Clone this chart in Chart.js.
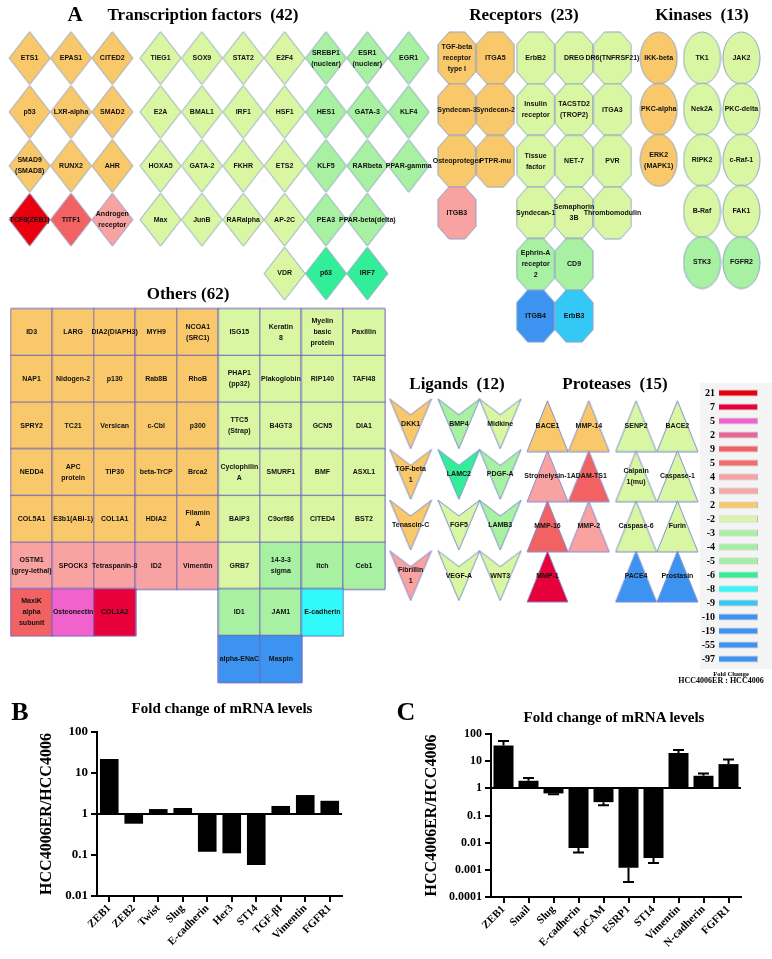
<!DOCTYPE html>
<html>
<head>
<meta charset="UTF-8">
<title>HCC4006ER vs HCC4006 fold change</title>
<script src="https://cdn.jsdelivr.net/npm/chart.js"></script>
<style>
body { margin: 0; background: #fff; }
#page { position: relative; width: 772px; height: 959px; overflow: hidden; }
canvas { position: absolute; }
#legendBg { position: absolute; left: 700px; top: 383px; width: 72px; height: 286px; background: #f4f4f4; }
.t { position: absolute; transform: translate(-50%, -50%); font-family: "Liberation Serif", "Times New Roman", serif;
     font-weight: bold; white-space: pre; line-height: 1; color: #000; }
</style>
</head>
<body>
<div id="page">
  <div id="legendBg"></div>
  <canvas id="chartA" width="772" height="700" style="left:0;top:0"></canvas>
  <canvas id="chartLeg" width="80" height="300" style="left:690px;top:376px"></canvas>
  <canvas id="chartB" width="390" height="244" style="left:0;top:715px"></canvas>
  <canvas id="chartC" width="382" height="244" style="left:390px;top:715px"></canvas>

  <div class="t" style="left:75px;top:14px;font-size:21px">A</div>
  <div class="t" style="left:203px;top:14px;font-size:17px">Transcription factors  (42)</div>
  <div class="t" style="left:524px;top:14px;font-size:17px">Receptors  (23)</div>
  <div class="t" style="left:702px;top:14px;font-size:17px">Kinases  (13)</div>
  <div class="t" style="left:188px;top:293px;font-size:17px">Others (62)</div>
  <div class="t" style="left:457px;top:383px;font-size:17px">Ligands  (12)</div>
  <div class="t" style="left:615px;top:383px;font-size:17px">Proteases  (15)</div>
  <div class="t" style="left:731px;top:674px;font-size:6.5px">Fold Change</div>
  <div class="t" style="left:721px;top:681px;font-size:8px">HCC4006ER : HCC4006</div>

  <div class="t" style="left:20px;top:712px;font-size:26px">B</div>
  <div class="t" style="left:222px;top:708px;font-size:15px">Fold change of mRNA levels</div>
  <div class="t" style="left:406px;top:712px;font-size:26px">C</div>
  <div class="t" style="left:614px;top:717px;font-size:15px">Fold change of mRNA levels</div>
</div>

<script>
// colour key, HCC4006ER : HCC4006 (labels as printed, left digit cut off in the figure)
const legendTicks  = ['21','7','5','2','9','5','4','3','2','-2','-3','-4','-5','-6','-8','-9','-10','-19','-55','-97'];
const legendValues = [21, 17, 15, 12, 9, 5, 4, 3, 2, -2, -3, -4, -5, -6, -8, -9, -10, -19, -55, -97];
const legendColors = ['#e8000e','#e8003a','#f262cc','#ea6496','#f26262','#f46c6c','#f8a2a2','#f8a6a6','#f9c86b',
                      '#d9f7a3','#a8f0a2','#a2f0a2','#a2f0a2','#33ee99','#33fafa','#33c8f6','#3d94f0','#3d94f0','#3d94f0','#3d94f0'];

// Transcription factors (42)
const tfUpNames = [
  ['ETS1', 'EPAS1', 'CITED2'],
  ['p53', 'LXR-alpha', 'SMAD2'],
  ['SMAD9\n(SMAD8)', 'RUNX2', 'AHR'],
  ['TCF8(ZEB1)', 'TITF1', 'Androgen\nreceptor']
];
const tfUpFold = [[2, 2, 2], [2, 2, 2], [2, 2, 2], [21, 9, 4]];
const tfDownNames = [
  ['TIEG1', 'SOX9', 'STAT2', 'E2F4', 'SREBP1\n(nuclear)', 'ESR1\n(nuclear)', 'EGR1'],
  ['E2A', 'BMAL1', 'IRF1', 'HSF1', 'HES1', 'GATA-3', 'KLF4'],
  ['HOXA5', 'GATA-2', 'FKHR', 'ETS2', 'KLF5', 'RARbeta', 'PPAR-gamma'],
  ['Max', 'JunB', 'RARalpha', 'AP-2C', 'PEA3', 'PPAR-beta(delta)', null],
  [null, null, null, 'VDR', 'p63', 'IRF7', null]
];
const tfDownFold = [
  [-2, -2, -2, -2, -3, -3, -3],
  [-2, -2, -2, -2, -3, -3, -3],
  [-2, -2, -2, -2, -3, -3, -3],
  [-2, -2, -2, -2, -3, -3, null],
  [null, null, null, -2, -6, -6, null]
];

// Receptors (23)
const recUpNames = [
  ['TGF-beta\nreceptor\ntype I', 'ITGA5'],
  ['Syndecan-3', 'Syndecan-2'],
  ['Osteoproteger', 'PTPR-mu'],
  ['ITGB3', null]
];
const recUpFold = [[2, 2], [2, 2], [2, 2], [4, null]];
const recDownNames = [
  ['ErbB2', 'DREG', 'DR6(TNFRSF21)'],
  ['Insulin\nreceptor', 'TACSTD2\n(TROP2)', 'ITGA3'],
  ['Tissue\nfactor', 'NET-7', 'PVR'],
  ['Syndecan-1', 'Semaphorin\n3B', 'Thrombomodulin'],
  ['Ephrin-A\nreceptor\n2', 'CD9', null],
  ['ITGB4', 'ErbB3', null]
];
const recDownFold = [[-2, -2, -2], [-2, -2, -2], [-2, -2, -2], [-2, -2, -2], [-3, -3, null], [-10, -9, null]];

// Kinases (13)
const kinUpNames = [['IKK-beta'], ['PKC-alpha'], ['ERK2\n(MAPK1)']];
const kinUpFold = [[2], [2], [2]];
const kinDownNames = [['TK1', 'JAK2'], ['Nek2A', 'PKC-delta'], ['RIPK2', 'c-Raf-1'], ['B-Raf', 'FAK1'], ['STK3', 'FGFR2']];
const kinDownFold = [[-2, -2], [-2, -2], [-2, -2], [-2, -2], [-3, -3]];

// Others (62)
const othNames = [
  ['ID3', 'LARG', 'DIA2(DIAPH3)', 'MYH9', 'NCOA1\n(SRC1)', 'ISG15', 'Keratin\n8', 'Myelin\nbasic\nprotein', 'Paxillin'],
  ['NAP1', 'Nidogen-2', 'p130', 'Rab8B', 'RhoB', 'PHAP1\n(pp32)', 'Plakoglobin', 'RIP140', 'TAFI48'],
  ['SPRY2', 'TC21', 'Versican', 'c-Cbl', 'p300', 'TTC5\n(Strap)', 'B4GT3', 'GCN5', 'DIA1'],
  ['NEDD4', 'APC\nprotein', 'TIP30', 'beta-TrCP', 'Brca2', 'Cyclophilin\nA', 'SMURF1', 'BMF', 'ASXL1'],
  ['COL5A1', 'E3b1(ABI-1)', 'COL1A1', 'HDIA2', 'Filamin\nA', 'BAIP3', 'C9orf86', 'CITED4', 'BST2'],
  ['OSTM1\n(grey-lethal)', 'SPOCK3', 'Tetraspanin-8', 'ID2', 'Vimentin', 'GRB7', '14-3-3\nsigma', 'Itch', 'Ceb1'],
  ['MaxiK\nalpha\nsubunit', 'Osteonectin', 'COL1A2', null, null, 'ID1', 'JAM1', 'E-cadherin', null],
  [null, null, null, null, null, 'alpha-ENaC', 'Maspin', null, null]
];
const othFold = [
  [2, 2, 2, 2, 2, -2, -2, -2, -2],
  [2, 2, 2, 2, 2, -2, -2, -2, -2],
  [2, 2, 2, 2, 2, -2, -2, -2, -2],
  [2, 2, 2, 2, 2, -2, -2, -2, -2],
  [2, 2, 2, 2, 2, -2, -2, -2, -2],
  [4, 4, 4, 4, 4, -2, -3, -3, -3],
  [9, 15, 17, null, null, -3, -3, -8, null],
  [null, null, null, null, null, -10, -10, null, null]
];

// Ligands (12)
const ligUpNames = [['DKK1'], ['TGF-beta\n1'], ['Tenascin-C'], ['Fibrillin\n1']];
const ligUpFold = [[2], [2], [2], [4]];
const ligDownNames = [['BMP4', 'Midkine'], ['LAMC2', 'PDGF-A'], ['FGF5', 'LAMB3'], ['VEGF-A', 'WNT3']];
const ligDownFold = [[-3, -2], [-6, -3], [-2, -3], [-2, -2]];

// Proteases (15)
const protUpNames = [['BACE1', 'MMP-14'], ['Stromelysin-1', 'ADAM-TS1'], ['MMP-16', 'MMP-2'], ['MMP-1', null]];
const protUpFold = [[2, 2], [4, 9], [9, 4], [17, null]];
const protDownNames = [['SENP2', 'BACE2'], ['Calpain\n1(mu)', 'Caspase-1'], ['Caspase-6', 'Furin'], ['PACE4', 'Prostasin']];
const protDownFold = [[-2, -2], [-2, -2], [-2, -2], [-10, -10]];

// B: qPCR fold change
const bCats = ['ZEB1', 'ZEB2', 'Twist', 'Slug', 'E-cadherin', 'Her3', 'ST14', 'TGF-βI', 'Vimentin', 'FGFR1'];
const bVals = [22, 0.58, 1.32, 1.4, 0.12, 0.11, 0.057, 1.57, 2.9, 2.1];
const bTicks = [0.01, 0.1, 1, 10, 100];
const bTickLabels = ['0.01', '0.1', '1', '10', '100'];

// C: qPCR fold change with error bar ends
const cCats = ['ZEB1', 'Snail', 'Slug', 'E-cadherin', 'EpCAM', 'ESRP1', 'ST14', 'Vimentin', 'N-cadherin', 'FGFR1'];
const cVals = [38, 1.9, 0.65, 0.0064, 0.31, 0.0012, 0.0027, 20, 2.9, 7.8];
const cErr  = [55, 2.4, 0.61, 0.0043, 0.24, 0.00036, 0.0018, 26, 3.5, 11.5];
const cTicks = [0.0001, 0.001, 0.01, 0.1, 1, 10, 100];
const cTickLabels = ['0.0001', '0.001', '0.01', '0.1', '1', '10', '100'];


Chart.defaults.font.family = '"Liberation Serif", "Times New Roman", serif';
Chart.defaults.color = '#000';

function foldColor(v) {
  return legendColors[legendValues.indexOf(v)];
}

// one small canvas per node, used as the point style
function shapeCanvas(kind, w, h, fill, stroke) {
  const c = document.createElement('canvas');
  c.width = Math.round(w) + 2;
  c.height = Math.round(h) + 2;
  const g = c.getContext('2d');
  g.translate(c.width / 2, c.height / 2);
  const a = w / 2, b = h / 2;
  g.beginPath();
  if (kind == 'diamond') {
    g.moveTo(0, -b); g.lineTo(a, 0); g.lineTo(0, b); g.lineTo(-a, 0);
  } else if (kind == 'octagon') {
    const cx = w * 0.29, cy = h * 0.24;
    g.moveTo(-a + cx, -b); g.lineTo(a - cx, -b); g.lineTo(a, -b + cy); g.lineTo(a, b - cy);
    g.lineTo(a - cx, b); g.lineTo(-a + cx, b); g.lineTo(-a, b - cy); g.lineTo(-a, -b + cy);
  } else if (kind == 'ellipse') {
    g.ellipse(0, 0, a, b, 0, 0, Math.PI * 2);
  } else if (kind == 'rect') {
    g.rect(-a, -b, w, h);
  } else if (kind == 'triangle') {
    g.moveTo(0, -b); g.lineTo(a, b); g.lineTo(-a, b);
  } else if (kind == 'chevron') {
    g.moveTo(-a, -b); g.lineTo(0, -b + h * 0.32); g.lineTo(a, -b); g.lineTo(0, b);
  }
  g.closePath();
  g.fillStyle = fill;
  g.fill();
  g.lineWidth = 1;
  g.strokeStyle = stroke;
  g.stroke();
  return c;
}

const blocks = [
  { names: tfUpNames, folds: tfUpFold, shape: 'diamond', x0: 24, y0: 53, dx: 42, dy: 54.8, w: 41, h: 53, stroke: '#8fa3c6' },
  { names: tfDownNames, folds: tfDownFold, shape: 'diamond', x0: 157, y0: 53, dx: 42, dy: 54.8, w: 41, h: 53, stroke: '#8fa3c6' },
  { names: recUpNames, folds: recUpFold, shape: 'octagon', x0: 458, y0: 53, dx: 39, dy: 52.5, w: 38, h: 52, stroke: '#8fa3c6' },
  { names: recDownNames, folds: recDownFold, shape: 'octagon', x0: 538, y0: 53, dx: 39, dy: 52.5, w: 38, h: 52, stroke: '#8fa3c6' },
  { names: kinUpNames, folds: kinUpFold, shape: 'ellipse', x0: 663, y0: 53, dx: 40, dy: 52, w: 37, h: 52, stroke: '#8fa3c6' },
  { names: kinDownNames, folds: kinDownFold, shape: 'ellipse', x0: 707, y0: 53, dx: 40, dy: 52, w: 37, h: 52, stroke: '#8fa3c6' },
  { names: othNames, folds: othFold, shape: 'rect', x0: 26, y0: 332, dx: 42.2, dy: 47.5, w: 42.2, h: 47.5, stroke: '#6e64c0' },
  { names: ligUpNames, folds: ligUpFold, shape: 'chevron', x0: 411, y0: 425, dx: 42, dy: 51.5, w: 42, h: 50, stroke: '#7f8fd0' },
  { names: ligDownNames, folds: ligDownFold, shape: 'chevron', x0: 460, y0: 425, dx: 42, dy: 51.5, w: 42, h: 50, stroke: '#7f8fd0' },
  { names: protUpNames, folds: protUpFold, shape: 'triangle', x0: 550, y0: 427.5, dx: 42, dy: 51, w: 41, h: 51, stroke: '#7f8fd0' },
  { names: protDownNames, folds: protDownFold, shape: 'triangle', x0: 640, y0: 427.5, dx: 42, dy: 51, w: 41, h: 51, stroke: '#7f8fd0' }
];

const nodeSets = blocks.map(b => {
  const data = [], styles = [], labels = [];
  b.names.forEach((row, r) => row.forEach((name, c) => {
    if (!name) return;
    data.push({ x: b.x0 + c * b.dx, y: b.y0 + r * b.dy });
    styles.push(shapeCanvas(b.shape, b.w, b.h, foldColor(b.folds[r][c]), b.stroke));
    labels.push(name);
  }));
  return { data: data, pointStyle: styles, labels: labels, pointRadius: 5, clip: false };
});

// gene names written on top of the nodes
const nodeLabels = {
  id: 'nodeLabels',
  afterDatasetsDraw(chart) {
    const ctx = chart.ctx;
    ctx.save();
    ctx.font = 'bold 7px "Liberation Sans", Arial, sans-serif';
    ctx.fillStyle = '#111';
    ctx.textAlign = 'center';
    ctx.textBaseline = 'middle';
    chart.data.datasets.forEach((ds, di) => {
      chart.getDatasetMeta(di).data.forEach((pt, i) => {
        const lines = ds.labels[i].split('\n');
        lines.forEach((ln, k) => ctx.fillText(ln, pt.x, pt.y + (k - (lines.length - 1) / 2) * 11));
      });
    });
    ctx.restore();
  }
};

new Chart(document.getElementById('chartA'), {
  type: 'scatter',
  data: { datasets: nodeSets },
  options: {
    responsive: false, animation: false, events: [],
    layout: { padding: 0 },
    plugins: { legend: { display: false }, tooltip: { enabled: false } },
    scales: {
      x: { type: 'linear', display: false, min: 0, max: 772 },
      y: { type: 'linear', display: false, min: 0, max: 700, reverse: true }
    }
  },
  plugins: [nodeLabels]
});

// colour key
new Chart(document.getElementById('chartLeg'), {
  type: 'bar',
  data: {
    labels: legendTicks,
    datasets: [{
      data: legendTicks.map(() => [0, 1]),
      backgroundColor: legendColors,
      borderColor: '#bdbdbd', borderWidth: 1,
      barPercentage: 0.5, categoryPercentage: 1
    }]
  },
  options: {
    indexAxis: 'y', responsive: false, animation: false, events: [],
    layout: { padding: { left: 0, top: 1, right: 12, bottom: 1 } },
    plugins: { legend: { display: false }, tooltip: { enabled: false } },
    scales: {
      x: { display: false, min: 0, max: 1 },
      y: {
        grid: { display: false, drawTicks: false }, border: { display: false },
        ticks: { font: { size: 10, weight: 'bold' }, color: '#000', padding: 4, autoSkip: false },
        afterFit: s => { s.width = 29; }
      }
    }
  }
});

// error bars for panel C
const errorBars = {
  id: 'errorBars',
  afterDatasetsDraw(chart) {
    const ds = chart.data.datasets[0];
    if (!ds.errEnds) return;
    const ys = chart.scales.y, ctx = chart.ctx;
    ctx.save();
    ctx.strokeStyle = '#000';
    ctx.lineWidth = 2;
    chart.getDatasetMeta(0).data.forEach((bar, i) => {
      const y1 = ys.getPixelForValue(ds.data[i][1]);
      const y2 = ys.getPixelForValue(ds.errEnds[i]);
      ctx.beginPath();
      ctx.moveTo(bar.x, y1); ctx.lineTo(bar.x, y2);
      ctx.moveTo(bar.x - 5.5, y2); ctx.lineTo(bar.x + 5.5, y2);
      ctx.stroke();
    });
    ctx.restore();
  }
};

function foldChart(id, cats, vals, errs, tickVals, tickLabels, cfg) {
  return new Chart(document.getElementById(id), {
    type: 'bar',
    data: {
      labels: cats,
      datasets: [{
        data: vals.map(v => [1, v]),
        errEnds: errs,
        backgroundColor: '#000', borderWidth: 0,
        barPercentage: cfg.barPct, categoryPercentage: 1
      }]
    },
    options: {
      responsive: false, animation: false, events: [],
      layout: { padding: cfg.padding },
      plugins: { legend: { display: false }, tooltip: { enabled: false } },
      scales: {
        x: {
          grid: { offset: false, drawOnChartArea: false, color: '#000', tickColor: '#000', tickLength: 6, lineWidth: 2 },
          border: { color: '#000', width: 2 },
          ticks: { font: { size: 11, weight: 'bold' }, color: '#000', minRotation: 45, maxRotation: 45, autoSkip: false, padding: 0 },
          afterFit: s => { s.height = cfg.xHeight; }
        },
        y: {
          type: 'logarithmic',
          min: tickVals[0], max: tickVals[tickVals.length - 1],
          afterBuildTicks: s => { s.ticks = tickVals.map(v => ({ value: v })); },
          grid: {
            color: c => (c.tick && c.tick.value === 1) ? '#000' : 'rgba(0,0,0,0)',
            tickColor: '#000', tickLength: 6, lineWidth: 2
          },
          border: { color: '#000', width: 2 },
          ticks: {
            font: { size: cfg.tickSize, weight: 'bold' }, color: '#000', autoSkip: false, padding: 3,
            callback: v => tickLabels[tickVals.indexOf(v)]
          },
          title: {
            display: true, text: 'HCC4006ER/HCC4006', color: '#000',
            font: { size: 16, weight: 'bold' }, padding: { top: 0, bottom: 0 }
          },
          afterFit: s => { s.width = cfg.yWidth; }
        }
      }
    },
    plugins: [errorBars]
  });
}

foldChart('chartB', bCats, bVals, null, bTicks, bTickLabels,
  { padding: { left: 37, top: 17, right: 48, bottom: 0 }, yWidth: 60, xHeight: 63, tickSize: 13, barPct: 0.76 });
foldChart('chartC', cCats, cVals, cErr, cTicks, cTickLabels,
  { padding: { left: 32, top: 19, right: 31, bottom: 0 }, yWidth: 69, xHeight: 62, tickSize: 12, barPct: 0.8 });
</script>
</body>
</html>
